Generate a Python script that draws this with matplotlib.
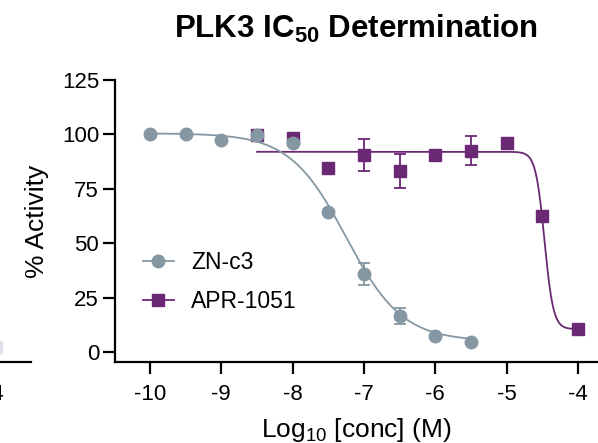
import numpy as np
import matplotlib
matplotlib.use("Agg")
import matplotlib.pyplot as plt

plt.rcParams['font.family'] = ['Liberation Sans', 'DejaVu Sans']
plt.rcParams['mathtext.fontset'] = 'custom'
plt.rcParams['mathtext.rm'] = 'Liberation Sans'
plt.rcParams['mathtext.bf'] = 'Liberation Sans:bold'

# ZN-c3 (grey circles)
zn_x = [-10, -9.5, -9, -8.5, -8, -7.5, -7, -6.5, -6, -5.5]
zn_y = [100.2, 100.2, 97.5, 99.8, 96.0, 64.3, 36.0, 16.5, 7.5, 4.5]
zn_err = [0, 0, 0, 0, 1.5, 0, 5.0, 3.5, 0, 0]
zn_fit = dict(top=100.5, bottom=5.0, logic50=-7.25, hill=1.1)

# APR-1051 (purple squares)
apr_x = [-8.5, -8, -7.5, -7, -6.5, -6, -5.5, -5, -4.5, -4]
apr_y = [99.5, 98.5, 84.6, 90.5, 83.2, 90.5, 92.5, 96.0, 62.5, 10.5]
apr_err = [0, 1.5, 0, 7.3, 7.8, 0, 6.7, 0, 2.5, 0]
apr_fit = dict(top=92.0, bottom=10.5, logic50=-4.47, hill=7.0)

xticks = [-10, -9, -8, -7, -6, -5, -4]
yticks = [0, 25, 50, 75, 100, 125]

grey = '#8597a3'
purple = '#6b2875'


def four_pl(x, top, bottom, logic50, hill):
    return bottom + (top - bottom) / (1 + 10 ** ((x - logic50) * hill))


fig = plt.figure(figsize=(5.98, 4.43), dpi=100)

# sliver of the neighbouring panel at the left edge
ax0 = fig.add_axes([-369 / 598, 81 / 443, 400 / 598, 282 / 443])
ax0.patch.set_visible(False)
ax0.set_xlim(-9.09, -3.48)
ax0.set_ylim(-4.6, 125)
for s in ['top', 'right', 'left']:
    ax0.spines[s].set_visible(False)
ax0.spines['bottom'].set_linewidth(1.6)
ax0.set_yticks([])
ax0.set_xticks([-4])
ax0.set_xticklabels(['-4'])
ax0.tick_params(width=1.6, length=8.5, labelsize=16, pad=7)
ax0.plot([-3.97], [2.3], 's', color='#e6dcef', ms=8.5)

ax = fig.add_axes([115 / 598, 81 / 443, 483 / 598, 282 / 443])
ax.patch.set_visible(False)

# purple first so grey sits on top
xs = np.linspace(apr_x[0], apr_x[-1], 600)
ax.plot(xs, four_pl(xs, **apr_fit), color=purple, lw=1.3, zorder=2)
ax.errorbar(apr_x, apr_y, yerr=apr_err, fmt='s', color=purple, ms=8.5,
            capsize=4.5, elinewidth=1.3, capthick=1.3, zorder=3)
ax.plot([], [], marker='s', color=purple, ms=8.5, lw=1.3, label='APR-1051')

xs = np.linspace(zn_x[0], zn_x[-1], 600)
ax.plot(xs, four_pl(xs, **zn_fit), color=grey, lw=1.3, zorder=4)
ax.errorbar(zn_x, zn_y, yerr=zn_err, fmt='o', color=grey, ms=9,
            capsize=4.5, elinewidth=1.3, capthick=1.3, zorder=5)
ax.plot([], [], marker='o', color=grey, ms=9, lw=1.3, label='ZN-c3')

ax.set_xlim(-10.49, -3.72)
ax.set_ylim(-4.6, 125)
ax.set_xticks(xticks)
ax.set_xticklabels([str(t) for t in xticks])
ax.set_yticks(yticks)
for s in ['top', 'right']:
    ax.spines[s].set_visible(False)
for s in ['left', 'bottom']:
    ax.spines[s].set_linewidth(1.6)
ax.tick_params(width=1.6, length=8.5, labelsize=16)
ax.tick_params(axis='y', pad=3)
ax.tick_params(axis='x', pad=7)

ax.set_ylabel('% Activity', fontsize=19, labelpad=9)
ax.set_xlabel('Log$_{10}$ [conc] (M)', fontsize=19, labelpad=8)
ax.set_title(r'PLK3 IC$_{\mathbf{50}}$ Determination', fontsize=22.5,
             fontweight='bold', pad=30)

h, l = ax.get_legend_handles_labels()
ax.legend(h[::-1], l[::-1], loc='center left', bbox_to_anchor=(0.058, 0.282),
          frameon=False, fontsize=16.5, handlelength=1.35, handletextpad=0.75,
          labelspacing=0.7, borderpad=0, borderaxespad=0)

fig.savefig('out.png', dpi=100)
